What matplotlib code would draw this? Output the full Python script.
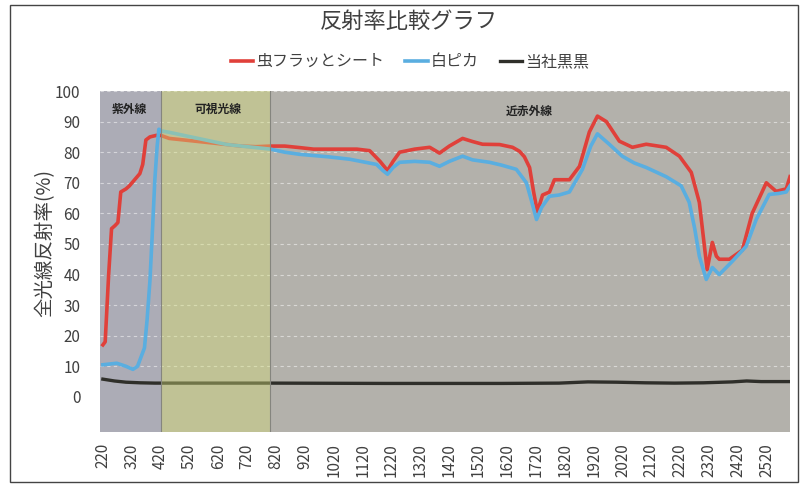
import matplotlib
matplotlib.use('Agg')
import matplotlib.pyplot as plt
from matplotlib.patches import Rectangle

plt.rcParams['font.family'] = ['Noto Sans CJK JP', 'DejaVu Sans']

# 虫フラッとシート (nm, %)
red_nm = [220, 228, 240, 250, 262, 272, 282, 300, 312, 330, 348, 358, 369, 383, 405,
          420, 450, 500, 550, 600, 650, 700, 750, 800, 850, 902, 950, 1000, 1050, 1100,
          1144, 1180, 1206, 1225, 1248, 1300, 1352, 1386, 1420, 1466, 1500, 1535, 1594,
          1639, 1663, 1680, 1698, 1712, 1725, 1743, 1767, 1784, 1836, 1871, 1905, 1933,
          1964, 2009, 2054, 2102, 2171, 2217, 2258, 2286, 2313, 2331, 2345, 2355, 2390,
          2435, 2469, 2518, 2552, 2587, 2600]
red_val = [17, 18, 40, 55, 56, 57, 67, 68, 69, 71, 73, 76, 84, 85, 85.5,
           85.5, 84.5, 84, 83.5, 83, 82.5, 82, 81.8, 82, 82, 81.5, 81, 81, 81, 81,
           80.5, 77, 74, 77, 80, 81, 81.6, 79.7, 82, 84.5, 83.5, 82.6, 82.5,
           81.6, 80.3, 78.5, 75, 67, 60.5, 66, 67, 71, 71, 75.4, 86.6, 91.8,
           90, 83.6, 81.6, 82.6, 81.6, 78.7, 73.4, 63.6, 41.6, 50.5, 46, 45, 45,
           48, 60, 70, 67.2, 68, 72]

# 白ピカ
blue_nm = [220, 268, 300, 324, 340, 348, 364, 373, 383, 392, 400, 408, 414,
           420, 450, 500, 550, 600, 650, 700, 750, 800, 850, 902, 1000, 1075, 1168,
           1190, 1206, 1225, 1248, 1300, 1352, 1386, 1420, 1466, 1500, 1559, 1600,
           1652, 1687, 1705, 1722, 1740, 1767, 1800, 1836, 1881, 1910, 1933, 1974,
           2019, 2060, 2102, 2171, 2223, 2251, 2270, 2286, 2310, 2331, 2355, 2400,
           2448, 2483, 2528, 2560, 2587, 2600]
blue_val = [10.5, 11, 10, 9, 10, 12, 16, 25, 38, 55, 71, 82, 87.5,
            87, 86.5, 85.5, 84.5, 83.5, 82.5, 82, 81.5, 81, 80, 79.3, 78.5, 77.7, 76,
            74, 72.8, 75, 76.7, 77, 76.7, 75.4, 77, 78.7, 77.5, 76.7, 75.8,
            74.4, 70, 64, 58, 62, 65.6, 66, 67, 74.4, 82, 86, 82.6,
            78.7, 76.5, 75, 72, 69, 63.6, 55, 46, 38.4, 42.3, 40, 44.3,
            49.2, 58, 66.2, 66.5, 67, 69]

# 当社黒黒
black_nm = [220, 260, 300, 350, 400, 800, 1200, 1600, 1800, 1900, 2000, 2100, 2200,
            2300, 2400, 2450, 2500, 2600]
black_val = [5.8, 5.2, 4.8, 4.6, 4.5, 4.5, 4.4, 4.4, 4.5, 4.9, 4.8, 4.6, 4.5,
             4.6, 4.9, 5.2, 5.0, 5.0]

x_ticks = list(range(220, 2521, 100))
y_ticks = list(range(0, 101, 10))

fig = plt.figure(figsize=(8.09, 4.86), dpi=100)
ax = fig.add_axes([0.1236, 0.111, 0.8529, 0.7017])

# 背景（近赤外線）と紫外線領域
ax.set_facecolor('#b3b1ab')
ax.axvspan(210, 420, color='#acacb6', zorder=0, linewidth=0)

for y in y_ticks[1:]:
    ax.axhline(y, color='white', linestyle=(0, (3, 3)), linewidth=0.8, alpha=0.5, zorder=1)

ax.plot(red_nm, red_val, color='#e0403a', linewidth=2.6, label='虫フラッとシート', zorder=3)
ax.plot(blue_nm, blue_val, color='#5aaee0', linewidth=2.6, label='白ピカ', zorder=3)
ax.plot(black_nm, black_val, color='#2f2f2a', linewidth=2.4, label='当社黒黒', zorder=3)

# 可視光線領域（線の上に半透明で重ねる）
ax.axvspan(420, 800, color='#d4de76', alpha=0.4, zorder=4, linewidth=0)
ax.axvline(420, color='#85857e', linewidth=0.8, zorder=4)
ax.axvline(800, color='#85857e', linewidth=0.8, zorder=4)

ax.text(313, 94, '紫外線', ha='center', va='center', fontsize=8.5, fontweight='bold', color='#222222', zorder=5)
ax.text(618, 94, '可視光線', ha='center', va='center', fontsize=8.5, fontweight='bold', color='#222222', zorder=5)
ax.text(1697, 93.5, '近赤外線', ha='center', va='center', fontsize=8.5, fontweight='bold', color='#222222', zorder=5)

ax.set_xlim(210, 2600)
ax.set_ylim(-11.5, 100)
ax.set_xticks(x_ticks)
ax.set_xticklabels([str(t) for t in x_ticks], rotation=90)
ax.set_yticks(y_ticks)
ax.tick_params(axis='both', length=0, colors='#404040', labelsize=11)
ax.tick_params(axis='x', pad=8)
ax.tick_params(axis='y', pad=14)
for s in ax.spines.values():
    s.set_visible(False)

ax.set_ylabel('全光線反射率(%)', fontsize=14, color='#404040')
ax.yaxis.set_label_coords(-0.065, 0.555)

fig.suptitle('反射率比較グラフ', x=0.505, y=0.98, fontsize=16, color='#404040')
fig.legend(loc='center', bbox_to_anchor=(0.507, 0.873), ncol=3, frameon=False,
           fontsize=11.5, handlelength=1.4, handletextpad=0.2, columnspacing=1.3,
           labelcolor='#404040')

# 外枠
fig.patches.append(Rectangle((0.012, 0.008), 0.974, 0.982, transform=fig.transFigure,
                             fill=False, edgecolor='#444444', linewidth=1.0))

fig.savefig('out.png', dpi=100)
